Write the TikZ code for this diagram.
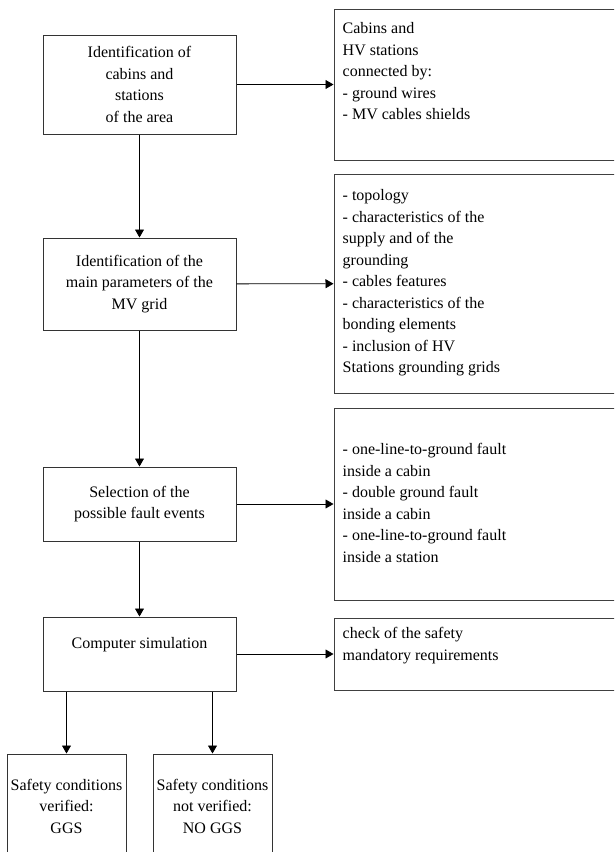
\documentclass[tikz,border=0pt]{standalone}
\usepackage{fontspec}
\setmainfont{Liberation Serif}
\usetikzlibrary{arrows.meta,positioning}

\begin{document}
\begin{tikzpicture}[
    x=1pt, y=-1pt,
    every node/.style={font=\fontsize{16}{21.5}\selectfont},
    box/.style={rectangle, draw=black!80, line width=1pt, align=center, inner sep=0pt, minimum width=193pt},
    panel/.style={rectangle, draw=black!75, line width=1pt, inner sep=0pt, minimum width=316pt},
    result/.style={rectangle, draw=black!80, line width=1pt, align=center, inner sep=0pt, minimum width=119pt, minimum height=104pt},
    note/.style={align=left, inner sep=0pt},
    arrow/.style={-{Triangle[length=8pt,width=9pt]}, line width=0.8pt}
]
    \useasboundingbox (0,0) rectangle (614,852);
    \clip (0,0) rectangle (614,852);

    % main steps
    \node[box, minimum height=99pt] (cabins) at (139.5,84.5) {Identification of\\cabins and\\stations\\of the area};
    \node[box, minimum height=92pt] (params) at (139.5,284) {Identification of the\\main parameters of the\\MV grid};
    \node[box, minimum height=74pt] (faults) at (139.5,504) {Selection of the\\possible fault events};
    \node[box, minimum height=74pt] (simul) at (139.5,654) {Computer simulation\\\mbox{}};

    % side panels
    \node[panel, minimum height=151pt] (links) at (492,84.5) {};
    \node[panel, minimum height=219pt] (grid) at (492,283.5) {};
    \node[panel, minimum height=192pt] (events) at (492,504) {};
    \node[panel, minimum height=72pt] (check) at (492,654) {};

    \node[note, below right=14pt and 9pt of links.north west] (linkstxt) {Cabins and\\HV stations\\connected by:\\- ground wires\\- MV cables shields};
    \node[note, below right=16pt and 9pt of grid.north west] (gridtxt) {- topology\\- characteristics of the\\supply and of the\\grounding\\- cables features\\- characteristics of the\\bonding elements\\- inclusion of HV\\Stations grounding grids};
    \node[note, below right=36pt and 9pt of events.north west] (eventstxt) {- one-line-to-ground fault\\inside a cabin\\- double ground fault\\inside a cabin\\- one-line-to-ground fault\\inside a station};
    \node[note, below right=10pt and 9pt of check.north west] (checktxt) {check of the safety\\mandatory requirements};

    % outcomes
    \node[result] (ggs) at (66.5,806) {Safety conditions\\verified:\\GGS};
    \node[result] (noggs) at (212.5,806) {Safety conditions\\not verified:\\NO GGS};

    \draw[arrow] (cabins) -- (params);
    \draw[arrow] (params) -- (faults);
    \draw[arrow] (faults) -- (simul);

    \draw[arrow] (cabins) -- (links);
    \draw[arrow] (params) -- (grid);
    \draw[arrow] (faults) -- (events);
    \draw[arrow] (simul) -- (check);

    \draw[arrow] (ggs.north |- simul.south) -- (ggs.north);
    \draw[arrow] (noggs.north |- simul.south) -- (noggs.north);
\end{tikzpicture}
\end{document}
